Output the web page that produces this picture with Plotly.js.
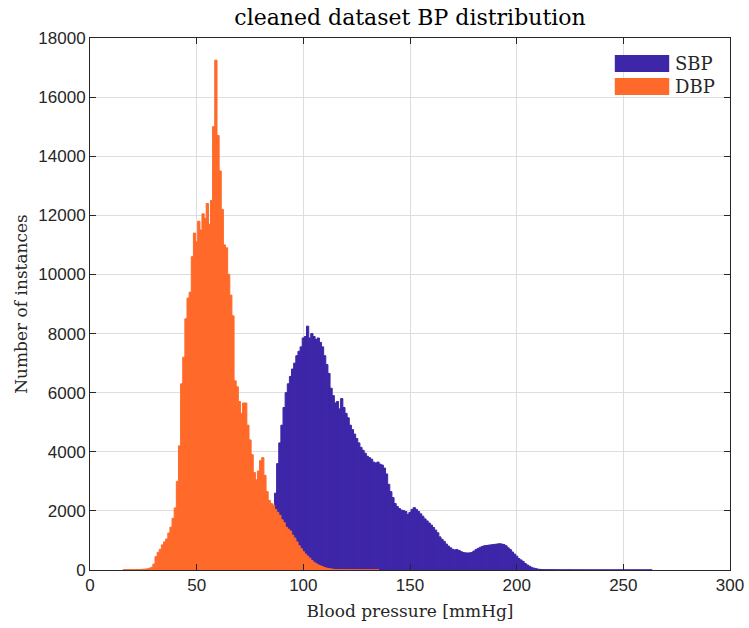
<!DOCTYPE html>
<html>
<head>
<meta charset="utf-8">
<script src="https://cdn.plot.ly/plotly-3.0.1.min.js"></script>
<style>
html,body{margin:0;padding:0;background:#fff;}
#chart{width:749px;height:628px;}
</style>
</head>
<body>
<div id="chart"></div>
<script>
// ---- data (1 mmHg bins, first bin centre given by *Start) ----
const seriesNames = ["SBP", "DBP"];
const seriesColors = ["#3E26A8", "#FF6A2B"];

const sbpStart = 84;
const sbpCounts = [
  0, 1200, 2000, 2600, 3600, 4300, 4900, 5500, 6000, 6300,
  6550, 6800, 7000, 7250, 7400, 7550, 7850, 7900, 8250, 7850,
  8000, 7900, 7800, 7850, 7700, 7550, 7250, 6950, 6650, 6150,
  5900, 5650, 5700, 5450, 5800, 5500, 5300, 5150, 4900, 4750,
  4600, 4450, 4300, 4150, 4050, 3950, 3850, 3800, 3750, 3650,
  3620, 3650, 3580, 3550, 3450, 3250, 2900, 2650, 2450, 2250,
  2150, 2080, 2030, 2010, 1980, 1880, 1950, 2050, 2110, 2050,
  1980, 1900, 1820, 1730, 1660, 1590, 1520, 1440, 1350, 1260,
  1120, 1040, 970, 880, 810, 750, 700, 680, 690, 660,
  620, 590, 580, 575, 580, 590, 640, 690, 730, 770,
  800, 820, 830, 840, 850, 860, 870, 880, 890, 880,
  860, 820, 750, 690, 610, 540, 470, 390, 340, 290,
  220, 170, 130, 90, 65, 45, 30, 20, 15, 12,
  10, 9, 8, 8, 7, 7, 6, 6, 6, 5,
  5, 5, 5, 4, 4, 4, 4, 4, 3, 3,
  3, 3, 3, 3, 3, 3, 3, 3, 3, 3,
  3, 3, 3, 3, 3, 3, 3, 3, 3, 3,
  3, 3, 3, 3, 3, 3, 3, 3, 3, 3
];

const dbpStart = 16;
const dbpCounts = [
  10, 12, 10, 15, 12, 15, 18, 15, 20, 25,
  30, 40, 60, 90, 200, 450, 600, 700, 850, 950,
  1050, 1250, 1450, 1750, 2100, 3000, 4200, 6300, 7200, 8500,
  9200, 9400, 10600, 11400, 11100, 11800, 11500, 12050, 11900, 12400,
  11700, 12500, 15000, 17250, 14700, 13500, 12200, 11000, 10900, 10000,
  9300, 8600, 6400, 6200, 5700, 5300, 5650, 5650, 4900, 4400,
  3900, 3300, 3050, 3350, 3700, 3800, 3200, 2650, 2350, 2250,
  2200, 2050, 1950, 1850, 1700, 1600, 1450, 1380, 1320, 1180,
  1080, 950, 820, 720, 620, 540, 470, 400, 320, 260,
  210, 170, 140, 110, 80, 60, 45, 35, 25, 15,
  10, 8, 7, 6, 6, 5, 5, 5, 4, 4,
  4, 4, 4, 3, 3, 3, 3, 3, 3, 3
];

const xTickVals = [0, 50, 100, 150, 200, 250, 300];
const yTickVals = [0, 2000, 4000, 6000, 8000, 10000, 12000, 14000, 16000, 18000];

const chartTitle = "cleaned dataset BP distribution";
const xLabel = "Blood pressure [mmHg]";
const yLabel = "Number of instances";

// ---- build ----
function centres(start, arr) { return arr.map((_, i) => start + i); }

const serif = "'DejaVu Serif', 'Liberation Serif', serif";
const sans = "'Liberation Sans', Arial, sans-serif";
const ink = "#262626";

const traces = [
  {
    type: "bar", name: seriesNames[0],
    x: centres(sbpStart, sbpCounts), y: sbpCounts, width: 1.06,
    marker: { color: seriesColors[0], line: { color: seriesColors[0], width: 1 } },
    showlegend: false, hoverinfo: "x+y"
  },
  {
    type: "bar", name: seriesNames[1],
    x: centres(dbpStart, dbpCounts), y: dbpCounts, width: 1.06,
    marker: { color: seriesColors[1], line: { color: seriesColors[1], width: 1 } },
    showlegend: false, hoverinfo: "x+y"
  }
];

const axisCommon = {
  showline: true, linecolor: ink, linewidth: 1, mirror: "ticks",
  ticks: "inside", ticklen: 6, tickcolor: ink, tickwidth: 1,
  showgrid: true, gridcolor: "#DEDEDE", gridwidth: 1,
  zeroline: false, tickfont: { family: sans, size: 17, color: ink },
  tickformat: "d"
};

// manual legend (wide swatches, as in the reference)
const legendShapes = seriesColors.map((c, i) => ({
  type: "rect", xref: "paper", yref: "paper", layer: "above",
  x0: 0.820, x1: 0.905,
  y0: 0.936 - i * 0.0432, y1: 0.968 - i * 0.0432,
  fillcolor: c, line: { width: 0 }
}));
const legendText = seriesNames.map((n, i) => ({
  xref: "paper", yref: "paper", x: 0.911, y: 0.952 - i * 0.0432,
  xanchor: "left", yanchor: "middle", showarrow: false, text: n,
  font: { family: serif, size: 18, color: ink }
}));

const layout = {
  width: 749, height: 628,
  margin: { l: 90, r: 19, t: 38, b: 58 },
  paper_bgcolor: "#ffffff", plot_bgcolor: "#ffffff",
  barmode: "overlay", bargap: 0,
  title: {
    text: chartTitle, x: 0.5474, xanchor: "center",
    y: 1 - 17 / 628, yanchor: "middle", yref: "container",
    font: { family: serif, size: 22, color: "#000" }
  },
  xaxis: Object.assign({}, axisCommon, {
    range: [0, 300], tickvals: xTickVals,
    title: { text: xLabel, font: { family: serif, size: 17, color: ink }, standoff: 10 }
  }),
  yaxis: Object.assign({}, axisCommon, {
    range: [0, 18000], tickvals: yTickVals,
    title: { text: yLabel, font: { family: serif, size: 17, color: ink }, standoff: 6 }
  }),
  shapes: legendShapes,
  annotations: legendText
};

Plotly.newPlot("chart", traces, layout, { displayModeBar: false, staticPlot: true });
</script>
</body>
</html>
